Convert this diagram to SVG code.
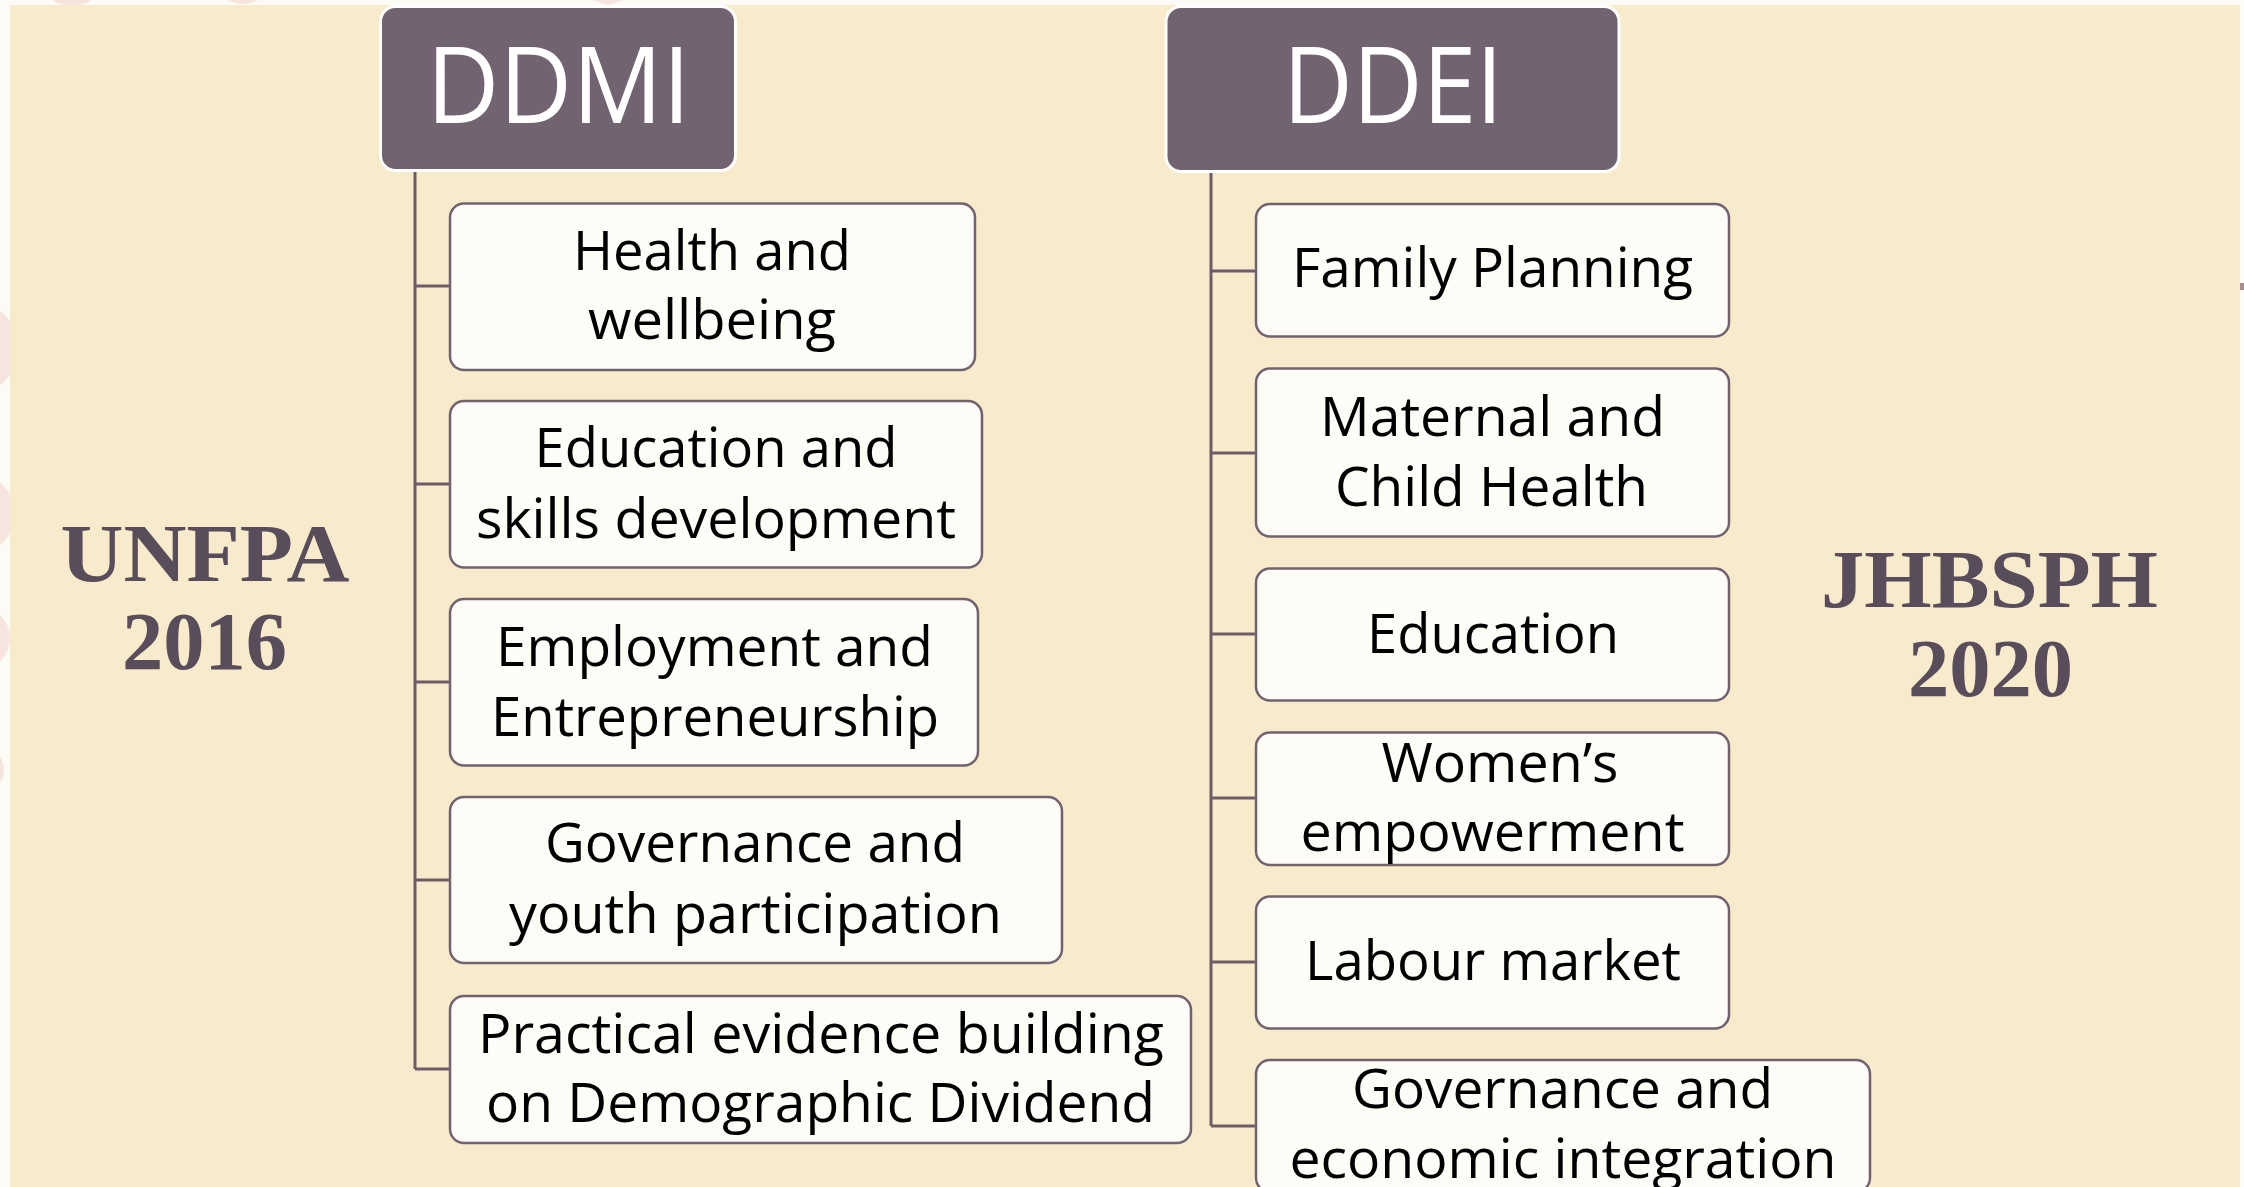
<svg xmlns="http://www.w3.org/2000/svg" width="2244" height="1187" viewBox="0 0 2244 1187">
  <defs>
    <style>
      .deco { fill: #F6E5DC; }
      .panel { fill: #F8EBCB; }
      .head { fill: #726370; stroke: #FFFFFF; stroke-width: 3; }
      .headtxt { font-family: "Open Sans", "Noto Sans", "Liberation Sans", sans-serif; font-size: 106px; fill: #FFFFFF; text-anchor: middle; }
      .box { fill: #FDFCF7; stroke: #716270; stroke-width: 2.5; }
      .txt { font-family: "Open Sans", "Noto Sans", "Liberation Sans", sans-serif; font-size: 55px; fill: #000000; text-anchor: middle; }
      .side { font-family: "Liberation Serif", "DejaVu Serif", serif; font-weight: bold; font-size: 83px; fill: #594C5B; text-anchor: middle; }
      .conn { fill: none; stroke: #6B5C68; stroke-width: 3; }
    </style>
  </defs>

  <!-- background -->
  <rect x="0" y="0" width="2244" height="1187" fill="#FDFBF5"/>
  <g id="decor">
    <circle class="deco" cx="72" cy="-28" r="34"/>
    <circle class="deco" cx="243" cy="-28" r="32"/>
    <circle class="deco" cx="608" cy="-28" r="32"/>
    <circle class="deco" cx="-30" cy="348" r="48"/>
    <circle class="deco" cx="-25" cy="514" r="40"/>
    <circle class="deco" cx="-22" cy="638" r="32"/>
    <circle class="deco" cx="-20" cy="770" r="24"/>
    <rect x="2238" y="283" width="6" height="7" fill="#A98C92"/>
  </g>
  <rect class="panel" x="10" y="5" width="2230" height="1182"/>

  <!-- side labels -->
  <g id="label-unfpa">
    <text class="side" x="205" y="581" textLength="289" lengthAdjust="spacingAndGlyphs">UNFPA</text>
    <text class="side" x="204.5" y="669" textLength="165" lengthAdjust="spacingAndGlyphs">2016</text>
  </g>
  <g id="label-jhbsph">
    <text class="side" x="1989.5" y="607" textLength="337" lengthAdjust="spacingAndGlyphs">JHBSPH</text>
    <text class="side" x="1990.5" y="696" textLength="165" lengthAdjust="spacingAndGlyphs">2020</text>
  </g>

  <!-- connectors -->
  <g id="connectors">
    <path class="conn" d="M415 171 V1069 M415 286 H450 M415 484 H450 M415 682 H450 M415 880 H450 M415 1069 H450"/>
    <path class="conn" d="M1211 172 V1126 M1211 271 H1256 M1211 453 H1256 M1211 634 H1256 M1211 798 H1256 M1211 962 H1256 M1211 1126 H1256"/>
  </g>

  <!-- headers -->
  <g id="node-ddmi">
    <rect class="head" x="380.5" y="6.5" width="355" height="164" rx="15"/>
    <text class="headtxt" x="558.5" y="122.7" textLength="264" lengthAdjust="spacingAndGlyphs">DDMI</text>
  </g>
  <g id="node-ddei">
    <rect class="head" x="1166" y="6.5" width="453" height="165" rx="15"/>
    <text class="headtxt" x="1393" y="122.7" textLength="220" lengthAdjust="spacingAndGlyphs">DDEI</text>
  </g>

  <!-- left column -->
  <g id="node-health">
    <rect class="box" x="450" y="203.5" width="525" height="166.5" rx="14"/>
    <text class="txt" x="712" y="270" textLength="278" lengthAdjust="spacingAndGlyphs">Health and</text>
    <text class="txt" x="712" y="339" textLength="248" lengthAdjust="spacingAndGlyphs">wellbeing</text>
  </g>
  <g id="node-education-skills">
    <rect class="box" x="450" y="401" width="532" height="166.5" rx="14"/>
    <text class="txt" x="716" y="466.7" textLength="363" lengthAdjust="spacingAndGlyphs">Education and</text>
    <text class="txt" x="716" y="538" textLength="480" lengthAdjust="spacingAndGlyphs">skills development</text>
  </g>
  <g id="node-employment">
    <rect class="box" x="450" y="599" width="528" height="166.5" rx="14"/>
    <text class="txt" x="714.5" y="666" textLength="437" lengthAdjust="spacingAndGlyphs">Employment and</text>
    <text class="txt" x="715" y="735.7" textLength="448" lengthAdjust="spacingAndGlyphs">Entrepreneurship</text>
  </g>
  <g id="node-governance-youth">
    <rect class="box" x="450" y="797" width="612" height="166" rx="14"/>
    <text class="txt" x="755" y="861.7" textLength="420" lengthAdjust="spacingAndGlyphs">Governance and</text>
    <text class="txt" x="755.5" y="933" textLength="493" lengthAdjust="spacingAndGlyphs">youth participation</text>
  </g>
  <g id="node-practical">
    <rect class="box" x="450" y="996" width="741" height="147" rx="14"/>
    <text class="txt" x="821" y="1052.7" textLength="686" lengthAdjust="spacingAndGlyphs">Practical evidence building</text>
    <text class="txt" x="820.5" y="1121.7" textLength="669" lengthAdjust="spacingAndGlyphs">on Demographic Dividend</text>
  </g>

  <!-- right column -->
  <g id="node-family-planning">
    <rect class="box" x="1256" y="204" width="473" height="132.5" rx="14"/>
    <text class="txt" x="1492.5" y="286.7" textLength="401" lengthAdjust="spacingAndGlyphs">Family Planning</text>
  </g>
  <g id="node-maternal">
    <rect class="box" x="1256" y="368.5" width="473" height="168" rx="14"/>
    <text class="txt" x="1492.5" y="436" textLength="345" lengthAdjust="spacingAndGlyphs">Maternal and</text>
    <text class="txt" x="1491.5" y="505.7" textLength="313" lengthAdjust="spacingAndGlyphs">Child Health</text>
  </g>
  <g id="node-education">
    <rect class="box" x="1256" y="568.5" width="473" height="132" rx="14"/>
    <text class="txt" x="1493" y="652.7" textLength="252" lengthAdjust="spacingAndGlyphs">Education</text>
  </g>
  <g id="node-women">
    <rect class="box" x="1256" y="732.5" width="473" height="132.5" rx="14"/>
    <text class="txt" x="1500" y="781.7" textLength="237" lengthAdjust="spacingAndGlyphs">Women’s</text>
    <text class="txt" x="1492.5" y="850.7" textLength="384" lengthAdjust="spacingAndGlyphs">empowerment</text>
  </g>
  <g id="node-labour">
    <rect class="box" x="1256" y="896.5" width="473" height="132" rx="14"/>
    <text class="txt" x="1493" y="980" textLength="376" lengthAdjust="spacingAndGlyphs">Labour market</text>
  </g>
  <g id="node-governance-economic">
    <rect class="box" x="1256" y="1060" width="614" height="132" rx="14"/>
    <text class="txt" x="1562.5" y="1108.3" textLength="421" lengthAdjust="spacingAndGlyphs">Governance and</text>
    <text class="txt" x="1563" y="1178" textLength="547" lengthAdjust="spacingAndGlyphs">economic integration</text>
  </g>
</svg>
